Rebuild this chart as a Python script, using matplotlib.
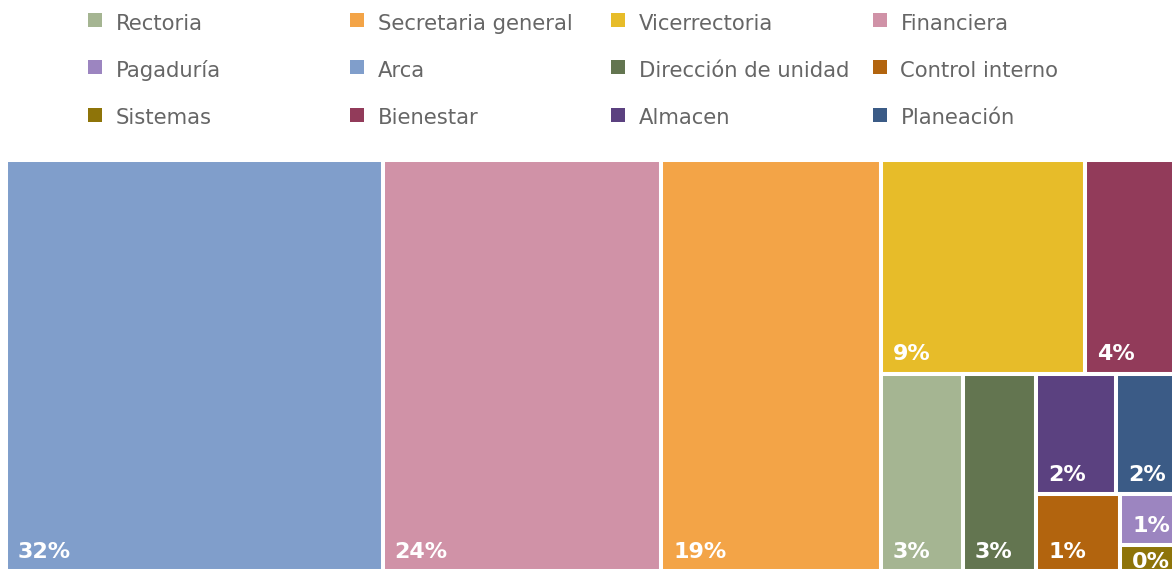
import matplotlib
matplotlib.use("Agg")
import matplotlib.pyplot as plt
from matplotlib.patches import Rectangle

# areas in legend order, with the number of records per area
areas = ["Rectoria", "Secretaria general", "Vicerrectoria", "Financiera",
         "Pagaduría", "Arca", "Dirección de unidad", "Control interno",
         "Sistemas", "Bienestar", "Almacen", "Planeación"]
counts = [10, 56, 27, 71, 2, 96, 9, 4, 1, 13, 6, 5]
colors = ["#A5B592", "#F3A447", "#E7BC29", "#D092A7", "#9C85C0", "#809ECB",
          "#637550", "#B2640E", "#8E7409", "#923B5A", "#5B4180", "#3B5B86"]

W_PX, H_PX = 1172, 569
TARGET = 2 / 3      # preferred cell width/height


def worst(row, side, column):
    thick = sum(row) / side
    out = 0
    for a in row:
        length = a / thick
        w, h = (thick, length) if column else (length, thick)
        r = (w / h) / TARGET
        out = max(out, r, 1 / r)
    return out


def squarify(sizes, x, y, w, h):
    rects = []
    i = 0
    while i < len(sizes):
        if i == len(sizes) - 1:
            rects.append((x, y, w, h))
            break
        column = w >= h
        side = h if column else w
        j = i + 1
        best = worst(sizes[i:j], side, column)
        while j < len(sizes):
            r = worst(sizes[i:j + 1], side, column)
            if r > best:
                break
            best = r
            j += 1
        thick = sum(sizes[i:j]) / side
        pos = y if column else x
        for a in sizes[i:j]:
            step = a / thick
            rects.append((x, pos, thick, step) if column else (pos, y, step, thick))
            pos += step
        if column:
            x += thick
            w -= thick
        else:
            y += thick
            h -= thick
        i = j
    return rects


fig = plt.figure(figsize=(W_PX / 100, H_PX / 100), dpi=100)

# treemap box (pixels): left, top, right, bottom
left, top, right, bottom = 6, 160, 1183, 571
bw, bh = right - left, bottom - top
ax = fig.add_axes([left / W_PX, (H_PX - bottom) / H_PX, bw / W_PX, bh / H_PX])
ax.set_xlim(0, bw)
ax.set_ylim(bh, 0)
ax.axis("off")

total = sum(counts)
order = sorted(range(len(counts)), key=lambda k: -counts[k])
sizes = [counts[k] * bw * bh / total for k in order]
for k, (x, y, w, h) in zip(order, squarify(sizes, 0, 0, bw, bh)):
    ax.add_patch(Rectangle((x, y), w, h, facecolor=colors[k],
                           edgecolor="white", linewidth=2.9))
    pct = round(100 * counts[k] / total)
    base = max(y + h - 13.5, y + 22.5)
    ax.text(x + 12, base, f"{pct}%", color="white", fontsize=16,
            fontweight="bold", va="baseline", ha="left")

# legend, four per row
lg = fig.add_axes([0, 0, 1, 1])
lg.set_xlim(0, W_PX)
lg.set_ylim(H_PX, 0)
lg.axis("off")
for n, (name, col) in enumerate(zip(areas, colors)):
    cx = 95 + 261.5 * (n % 4)
    yb = 29.5 + 47.4 * (n // 4)
    lg.add_patch(Rectangle((cx - 7, yb - 16.5), 14, 14, facecolor=col, edgecolor="none"))
    lg.text(cx + 21, yb, name, fontsize=15.2, color="#666666", va="baseline", ha="left")

fig.savefig("out.png", dpi=100)
